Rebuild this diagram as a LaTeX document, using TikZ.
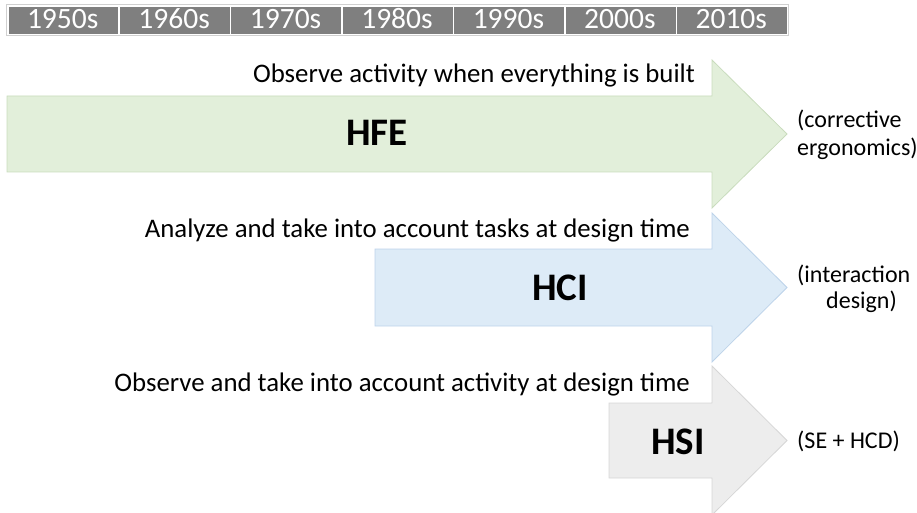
\documentclass[tikz,border=0pt]{standalone}
\usepackage{fontspec}
\setmainfont{Carlito}
\definecolor{bargray}{HTML}{7F7F7F}
\definecolor{barline}{HTML}{D0D0D0}
\definecolor{hfefill}{HTML}{E2EFDA}
\definecolor{hfedraw}{HTML}{C9DCBD}
\definecolor{hcifill}{HTML}{DDEBF7}
\definecolor{hcidraw}{HTML}{BDD3EA}
\definecolor{hsifill}{HTML}{EDEDED}
\definecolor{hsidraw}{HTML}{D6D6D6}
\tikzset{
  cellbox/.style={draw=white, line width=1.6pt, fill=bargray, minimum width=111.43pt, minimum height=29pt, anchor=north west, inner sep=0pt},
  celltext/.style={text=white, font=\fontsize{29.5}{34}\selectfont, anchor=base, inner sep=0pt},
  stmt/.style={font=\fontsize{26.8}{32}\selectfont, anchor=base east, inner sep=0pt, text=black},
  biglabel/.style={font=\fontsize{39}{46}\selectfont\bfseries, inner sep=0pt, text=black},
  sidetext/.style={font=\fontsize{24}{29}\selectfont, anchor=base west, inner sep=0pt, text=black},
  arrowshape/.style={line width=0.8pt, line join=miter},
}
\begin{document}
\begin{tikzpicture}[x=1pt,y=-1pt]
\useasboundingbox (0,0) rectangle (917,513);
% timeline bar
\foreach \lbl [count=\i from 0] in {1950s,1960s,1970s,1980s,1990s,2000s,2010s}{
  \node[cellbox] (cell\i) at ({7+111.43*\i},5) {};
  \node[celltext] (year\i) at ({7+111.43*\i+55.7},29) {\lbl};
}
\draw[barline, line width=0.8pt] (6,4) rectangle (788,35);
% HFE arrow
\draw[arrowshape, fill=hfefill, draw=hfedraw]
  (7,96) -- (712,96) -- (712,60) -- (787,134) -- (712,208) -- (712,172) -- (7,172) -- cycle;
% HCI arrow
\draw[arrowshape, fill=hcifill, draw=hcidraw]
  (375,249) -- (712,249) -- (712,213) -- (787,287.5) -- (712,362) -- (712,326) -- (375,326) -- cycle;
% HSI arrow
\draw[arrowshape, fill=hsifill, draw=hsidraw]
  (609,403) -- (712,403) -- (712,366) -- (787,440.5) -- (712,515) -- (712,478) -- (609,478) -- cycle;
% statements
\node[stmt] (s1) at (695,83) {Observe activity when everything is built};
\node[stmt] (s2) at (690,237) {Analyze and take into account tasks at design time};
\node[stmt] (s3) at (690,391) {Observe and take into account activity at design time};
% big labels
\node[biglabel] (hfe) at (377,133) {HFE};
\node[biglabel] (hci) at (560,288) {HCI};
\node[biglabel] (hsi) at (678,442) {HSI};
% side notes
\node[sidetext] (n1a) at (797,128) {(corrective};
\node[sidetext] (n1b) at (797,156) {ergonomics)};
\node[sidetext] (n2a) at (797,282) {(interaction};
\node[sidetext] (n2b) at (826,308) {design)};
\node[sidetext] (n3) at (797,448) {(SE + HCD)};
\end{tikzpicture}
\end{document}
